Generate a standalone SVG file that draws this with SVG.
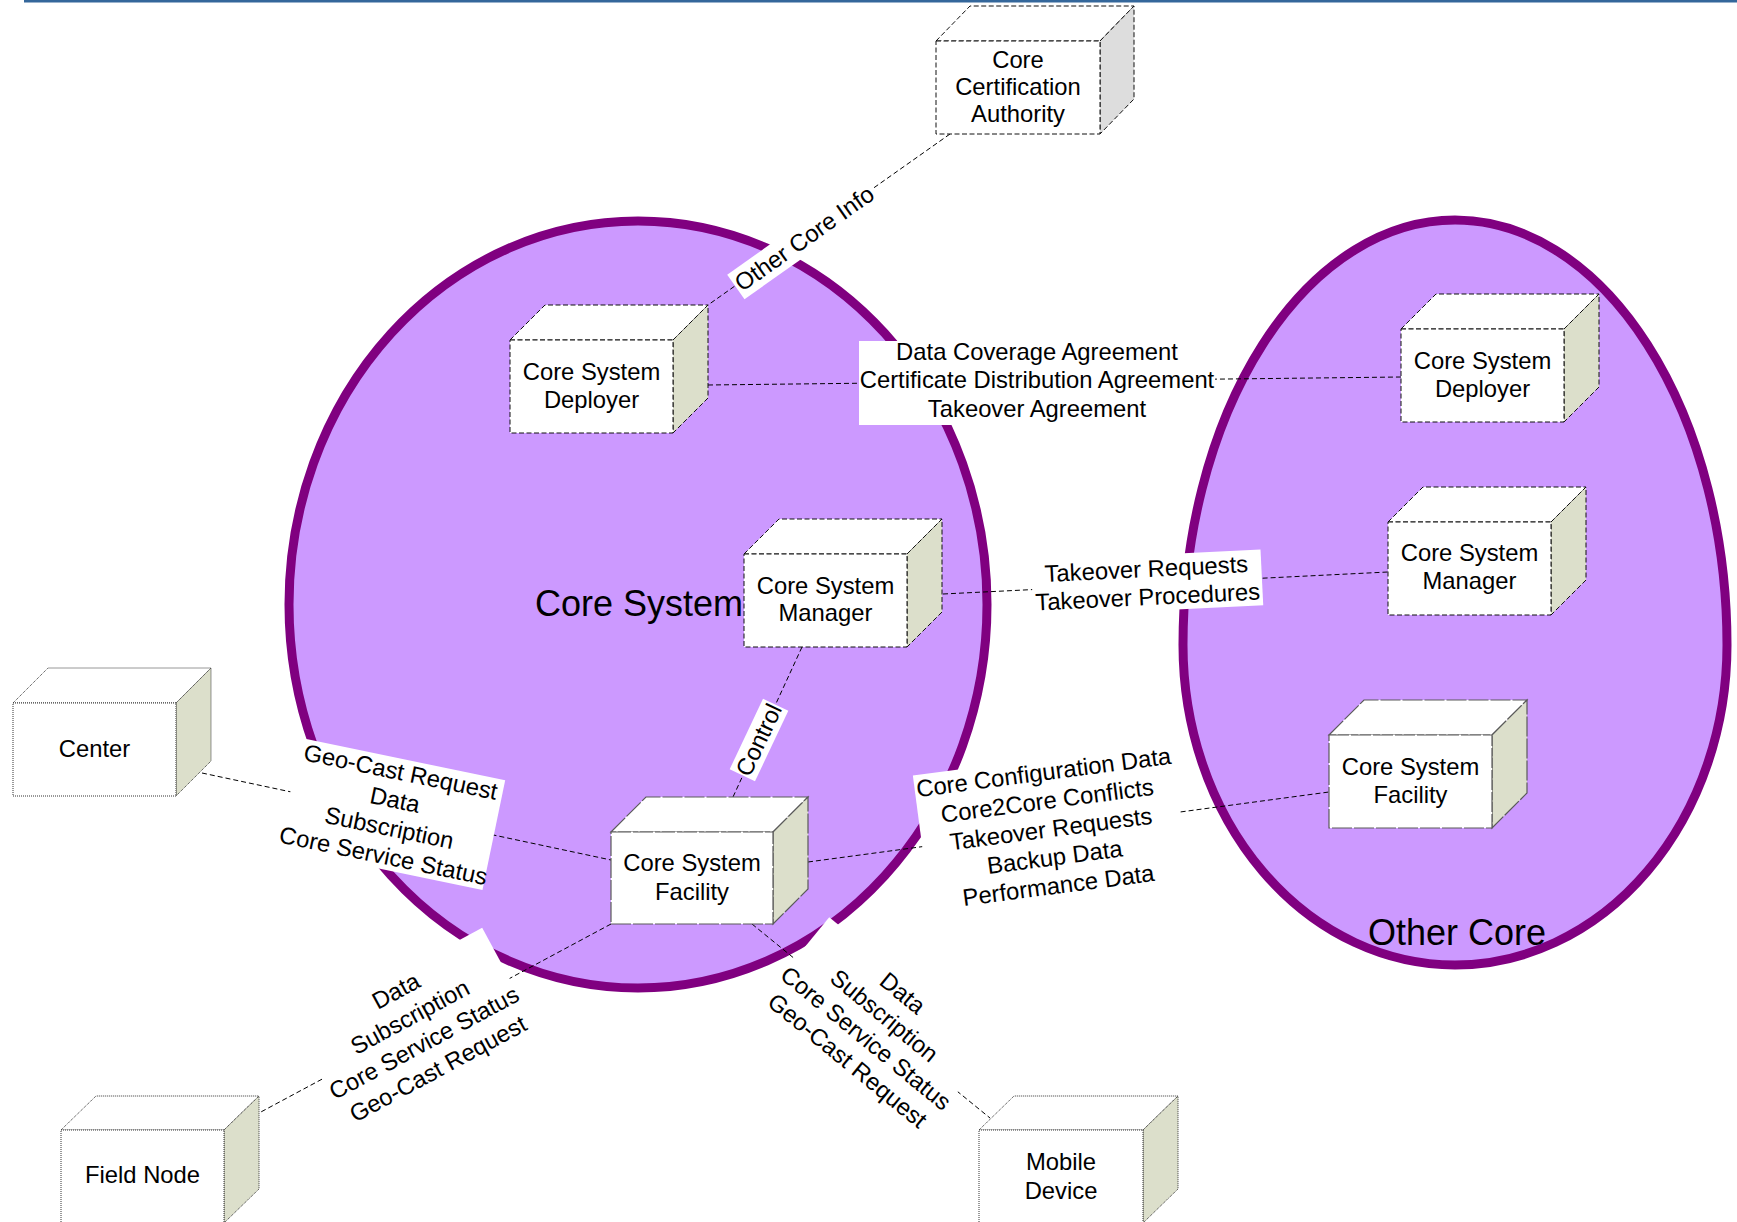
<svg xmlns="http://www.w3.org/2000/svg" width="1737" height="1222" viewBox="0 0 1737 1222">
  <style>
    text { font-family: "Liberation Sans", Arial, sans-serif; font-size: 23.8px; fill: #000; text-anchor: middle; }
    .big { font-size: 36px; }
    .region { fill: #cc99ff; stroke: #800080; stroke-width: 9; }
    .face { fill: #fff; }
    .side { fill: #dcdfcb; }
    .side-grey { fill: #dddddd; }
    .dashed { stroke: #111; stroke-width: 1; stroke-dasharray: 5 2.5; }
    .solid { stroke: #5a5a5a; stroke-width: 1.2; stroke-dasharray: 20 2; }
    .dotted { stroke: #333; stroke-width: 1; stroke-dasharray: 1 1; }
    .conn { stroke: #000; stroke-width: 1; stroke-dasharray: 5 3; fill: none; }
    .lbl { fill: #fff; stroke: none; }
  </style>

  <!-- header rule -->
  <rect x="24" y="0" width="1713" height="2.5" fill="#34679b"/>

  <!-- containers -->
  <g id="core-system">
    <ellipse class="region" cx="638" cy="604.5" rx="349" ry="383.5"/>
    <text class="big" x="639" y="616">Core System</text>
  </g>
  <g id="other-core">
    <path class="region" d="M1455,220 A272,425 0 0 1 1727,645 A272,320 0 0 1 1455,965 A272,320 0 0 1 1183,645 A272,425 0 0 1 1455,220 Z"/>
    <text class="big" x="1457" y="945">Other Core</text>
  </g>

  <!-- connectors with their labels -->
  <g id="connectors">
    <line class="conn" x1="950" y1="134" x2="708" y2="305"/>
    <line class="conn" x1="708" y1="385" x2="1401" y2="377"/>
    <line class="conn" x1="943" y1="594" x2="1388" y2="572"/>
    <line class="conn" x1="802" y1="647" x2="733" y2="797"/>
    <line class="conn" x1="202" y1="773" x2="611" y2="860"/>
    <line class="conn" x1="808" y1="862" x2="1329" y2="792"/>
    <line class="conn" x1="611" y1="924" x2="259" y2="1113"/>
    <line class="conn" x1="752" y1="924" x2="990" y2="1118"/>

    <g transform="translate(804.5,238.5) rotate(-35.2)">
      <rect class="lbl" x="-84" y="-15" width="168" height="30"/>
      <text y="8">Other Core Info</text>
    </g>

    <g>
      <rect class="lbl" x="859" y="341" width="356" height="84"/>
      <text x="1037" y="360">Data Coverage Agreement</text>
      <text x="1037" y="388">Certificate Distribution Agreement</text>
      <text x="1037" y="417">Takeover Agreement</text>
    </g>

    <g transform="translate(1147,583) rotate(-2.8)">
      <rect class="lbl" x="-115" y="-28" width="230" height="56"/>
      <text y="-6">Takeover Requests</text>
      <text y="22">Takeover Procedures</text>
    </g>

    <g transform="translate(759,740) rotate(-64.7)">
      <rect class="lbl" x="-39" y="-14" width="78" height="28"/>
      <text y="8">Control</text>
    </g>

    <g transform="translate(392,814) rotate(11.7)">
      <rect class="lbl" x="-104" y="-56" width="208" height="112"/>
      <text y="-34.75">Geo-Cast Request</text>
      <text y="-6.25">Data</text>
      <text y="22.25">Subscription</text>
      <text y="50.75">Core Service Status</text>
    </g>

    <g transform="translate(1051,829) rotate(-7.5)">
      <rect class="lbl" x="-130" y="-71" width="260" height="142"/>
      <text y="-49">Core Configuration Data</text>
      <text y="-20.5">Core2Core Conflicts</text>
      <text y="8">Takeover Requests</text>
      <text y="36.5">Backup Data</text>
      <text y="65">Performance Data</text>
    </g>

    <g transform="translate(417,1030) rotate(-28.4)">
      <rect class="lbl" x="-106" y="-59" width="212" height="118"/>
      <text y="-36.25">Data</text>
      <text y="-6.75">Subscription</text>
      <text y="22.75">Core Service Status</text>
      <text y="52.25">Geo-Cast Request</text>
    </g>

    <g transform="translate(875,1027) rotate(39.3)">
      <rect class="lbl" x="-105" y="-56" width="210" height="112"/>
      <text y="-35.5">Data</text>
      <text y="-6.5">Subscription</text>
      <text y="22.5">Core Service Status</text>
      <text y="51.5">Geo-Cast Request</text>
    </g>
  </g>

  <!-- nodes: top face, right face, front face -->
  <g id="core-certification-authority" class="dashed">
    <polygon class="face" points="936,41 970,6 1134,6 1100,41"/>
    <polygon class="side-grey" points="1100,41 1134,6 1134,99 1100,134"/>
    <rect class="face" x="936" y="41" width="164" height="93"/>
    <text x="1018" y="68" stroke="none">Core</text>
    <text x="1018" y="95" stroke="none">Certification</text>
    <text x="1018" y="122" stroke="none">Authority</text>
  </g>

  <g id="core-system-deployer" class="dashed">
    <polygon class="face" points="510,340 545,305 708,305 673,340"/>
    <polygon class="side" points="673,340 708,305 708,398 673,433"/>
    <rect class="face" x="510" y="340" width="163" height="93"/>
    <text x="591.5" y="380" stroke="none">Core System</text>
    <text x="591.5" y="408" stroke="none">Deployer</text>
  </g>

  <g id="core-system-manager" class="dashed">
    <polygon class="face" points="744,554 779,519 942,519 907,554"/>
    <polygon class="side" points="907,554 942,519 942,612 907,647"/>
    <rect class="face" x="744" y="554" width="163" height="93"/>
    <text x="825.5" y="594" stroke="none">Core System</text>
    <text x="825.5" y="621" stroke="none">Manager</text>
  </g>

  <g id="core-system-facility" class="solid">
    <polygon class="face" points="611,832 646,797 808,797 773,832"/>
    <polygon class="side" points="773,832 808,797 808,889 773,924"/>
    <rect class="face" x="611" y="832" width="162" height="92"/>
    <text x="692" y="871" stroke="none">Core System</text>
    <text x="692" y="900" stroke="none">Facility</text>
  </g>

  <g id="other-core-deployer" class="dashed">
    <polygon class="face" points="1401,329 1436,294 1599,294 1564,329"/>
    <polygon class="side" points="1564,329 1599,294 1599,387 1564,422"/>
    <rect class="face" x="1401" y="329" width="163" height="93"/>
    <text x="1482.5" y="369" stroke="none">Core System</text>
    <text x="1482.5" y="397" stroke="none">Deployer</text>
  </g>

  <g id="other-core-manager" class="dashed">
    <polygon class="face" points="1388,522 1423,487 1586,487 1551,522"/>
    <polygon class="side" points="1551,522 1586,487 1586,580 1551,615"/>
    <rect class="face" x="1388" y="522" width="163" height="93"/>
    <text x="1469.5" y="561" stroke="none">Core System</text>
    <text x="1469.5" y="589" stroke="none">Manager</text>
  </g>

  <g id="other-core-facility" class="solid">
    <polygon class="face" points="1329,735 1364,700 1527,700 1492,735"/>
    <polygon class="side" points="1492,735 1527,700 1527,793 1492,828"/>
    <rect class="face" x="1329" y="735" width="163" height="93"/>
    <text x="1410.5" y="775" stroke="none">Core System</text>
    <text x="1410.5" y="803" stroke="none">Facility</text>
  </g>

  <g id="center" class="dotted">
    <polygon class="face" points="13,703 48,668 211,668 176,703"/>
    <polygon class="side" points="176,703 211,668 211,761 176,796"/>
    <rect class="face" x="13" y="703" width="163" height="93"/>
    <text x="94.5" y="757" stroke="none">Center</text>
  </g>

  <g id="field-node" class="dotted">
    <polygon class="face" points="61,1130 96,1096 259,1096 224,1130"/>
    <polygon class="side" points="224,1130 259,1096 259,1189 224,1223"/>
    <rect class="face" x="61" y="1130" width="163" height="93"/>
    <text x="142.5" y="1183" stroke="none">Field Node</text>
  </g>

  <g id="mobile-device" class="dotted">
    <polygon class="face" points="979,1130 1014,1096 1178,1096 1143,1130"/>
    <polygon class="side" points="1143,1130 1178,1096 1178,1189 1143,1223"/>
    <rect class="face" x="979" y="1130" width="164" height="93"/>
    <text x="1061" y="1170" stroke="none">Mobile</text>
    <text x="1061" y="1199" stroke="none">Device</text>
  </g>
</svg>
